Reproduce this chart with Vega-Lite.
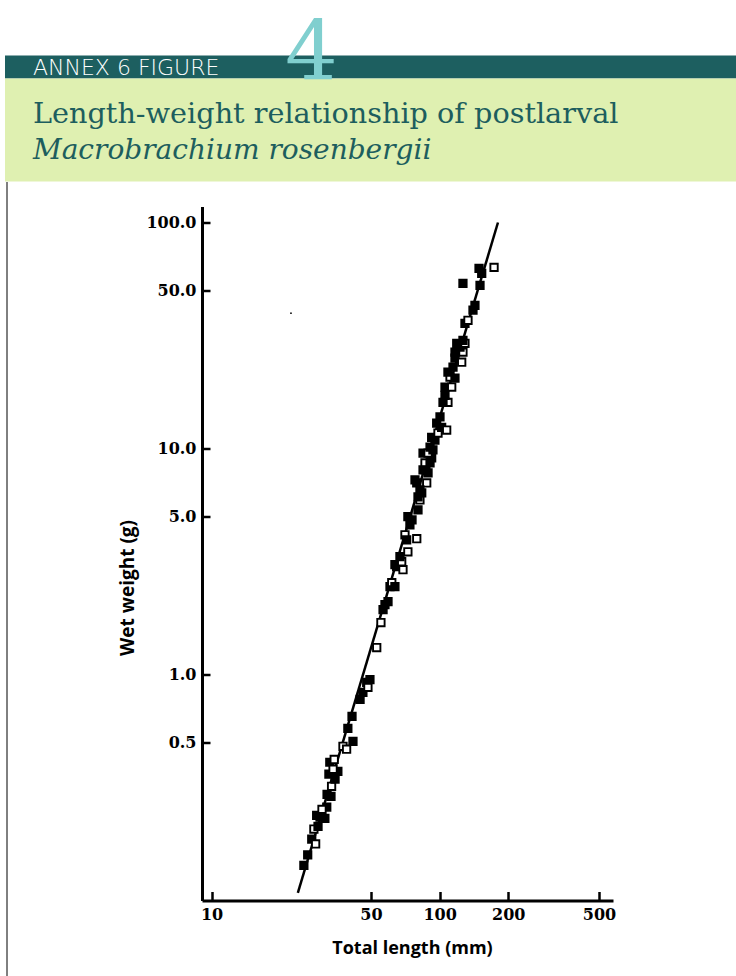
{
  "$schema": "https://vega.github.io/schema/vega-lite/v6.json",
  "background": "white",
  "padding": {"left": 5, "top": 13.5, "right": 0, "bottom": 0},
  "spacing": 0,
  "bounds": "flush",
  "config": {"axis": {"grid": false}},
  "datasets": {
    "pts": [
      {"L": 26.4, "W": 0.159, "kind": "filled"},
      {"L": 27.5, "W": 0.187, "kind": "filled"},
      {"L": 28.6, "W": 0.178, "kind": "open"},
      {"L": 28.1, "W": 0.207, "kind": "open"},
      {"L": 29.3, "W": 0.213, "kind": "filled"},
      {"L": 29.9, "W": 0.234, "kind": "open"},
      {"L": 31.4, "W": 0.231, "kind": "filled"},
      {"L": 28.9, "W": 0.238, "kind": "filled"},
      {"L": 32.0, "W": 0.259, "kind": "filled"},
      {"L": 33.4, "W": 0.289, "kind": "filled"},
      {"L": 33.6, "W": 0.320, "kind": "open"},
      {"L": 34.8, "W": 0.344, "kind": "filled"},
      {"L": 33.0, "W": 0.409, "kind": "filled"},
      {"L": 35.8, "W": 0.373, "kind": "filled"},
      {"L": 34.5, "W": 0.421, "kind": "open"},
      {"L": 37.7, "W": 0.481, "kind": "open"},
      {"L": 39.1, "W": 0.467, "kind": "open"},
      {"L": 39.6, "W": 0.578, "kind": "filled"},
      {"L": 41.7, "W": 0.506, "kind": "filled"},
      {"L": 32.1, "W": 0.295, "kind": "filled"},
      {"L": 32.7, "W": 0.362, "kind": "filled"},
      {"L": 30.5, "W": 0.253, "kind": "open"},
      {"L": 25.4, "W": 0.143, "kind": "filled"},
      {"L": 34.1, "W": 0.381, "kind": "open"},
      {"L": 41.3, "W": 0.653, "kind": "filled"},
      {"L": 44.8, "W": 0.776, "kind": "filled"},
      {"L": 46.1, "W": 0.833, "kind": "filled"},
      {"L": 47.9, "W": 0.922, "kind": "filled"},
      {"L": 49.5, "W": 0.950, "kind": "filled"},
      {"L": 48.5, "W": 0.877, "kind": "open"},
      {"L": 53.0, "W": 1.316, "kind": "open"},
      {"L": 55.3, "W": 1.697, "kind": "open"},
      {"L": 56.5, "W": 1.936, "kind": "filled"},
      {"L": 57.6, "W": 2.04, "kind": "filled"},
      {"L": 59.4, "W": 2.10, "kind": "filled"},
      {"L": 60.6, "W": 2.45, "kind": "filled"},
      {"L": 61.7, "W": 2.55, "kind": "open"},
      {"L": 63.7, "W": 2.45, "kind": "filled"},
      {"L": 64.8, "W": 3.00, "kind": "filled"},
      {"L": 63.7, "W": 3.06, "kind": "filled"},
      {"L": 69.1, "W": 2.91, "kind": "open"},
      {"L": 68.2, "W": 3.155, "kind": "open"},
      {"L": 67.0, "W": 3.32, "kind": "filled"},
      {"L": 72.6, "W": 3.49, "kind": "open"},
      {"L": 70.5, "W": 4.15, "kind": "open"},
      {"L": 79.4, "W": 3.99, "kind": "open"},
      {"L": 71.7, "W": 3.94, "kind": "filled"},
      {"L": 74.1, "W": 4.59, "kind": "filled"},
      {"L": 72.6, "W": 4.99, "kind": "filled"},
      {"L": 80.4, "W": 5.35, "kind": "filled"},
      {"L": 82.0, "W": 5.92, "kind": "open"},
      {"L": 83.5, "W": 6.36, "kind": "filled"},
      {"L": 78.0, "W": 7.26, "kind": "filled"},
      {"L": 79.4, "W": 7.04, "kind": "filled"},
      {"L": 87.8, "W": 7.04, "kind": "open"},
      {"L": 89.0, "W": 7.80, "kind": "filled"},
      {"L": 84.6, "W": 8.04, "kind": "filled"},
      {"L": 86.3, "W": 8.63, "kind": "open"},
      {"L": 90.8, "W": 8.63, "kind": "filled"},
      {"L": 92.3, "W": 9.08, "kind": "filled"},
      {"L": 84.6, "W": 9.55, "kind": "filled"},
      {"L": 89.0, "W": 9.55, "kind": "open"},
      {"L": 90.8, "W": 10.15, "kind": "filled"},
      {"L": 95.4, "W": 10.9, "kind": "filled"},
      {"L": 92.3, "W": 11.2, "kind": "filled"},
      {"L": 98.4, "W": 11.7, "kind": "open"},
      {"L": 102.1, "W": 12.4, "kind": "filled"},
      {"L": 97.1, "W": 12.96, "kind": "filled"},
      {"L": 107.4, "W": 12.07, "kind": "open"},
      {"L": 100.4, "W": 13.8, "kind": "filled"},
      {"L": 105.6, "W": 16.0, "kind": "open"},
      {"L": 108.8, "W": 16.0, "kind": "open"},
      {"L": 82.0, "W": 6.56, "kind": "filled"},
      {"L": 87.1, "W": 8.04, "kind": "filled"},
      {"L": 93.5, "W": 9.85, "kind": "filled"},
      {"L": 75.7, "W": 4.83, "kind": "filled"},
      {"L": 80.4, "W": 6.11, "kind": "filled"},
      {"L": 103.5, "W": 16.0, "kind": "filled"},
      {"L": 105.6, "W": 17.2, "kind": "filled"},
      {"L": 105.6, "W": 18.7, "kind": "filled"},
      {"L": 113.0, "W": 18.7, "kind": "open"},
      {"L": 111.1, "W": 20.7, "kind": "open"},
      {"L": 116.8, "W": 20.5, "kind": "filled"},
      {"L": 108.8, "W": 21.8, "kind": "filled"},
      {"L": 114.5, "W": 22.9, "kind": "filled"},
      {"L": 116.8, "W": 25.1, "kind": "filled"},
      {"L": 125.0, "W": 24.1, "kind": "open"},
      {"L": 116.8, "W": 26.7, "kind": "filled"},
      {"L": 126.6, "W": 26.7, "kind": "open"},
      {"L": 122.9, "W": 28.1, "kind": "filled"},
      {"L": 118.9, "W": 29.2, "kind": "filled"},
      {"L": 129.2, "W": 29.2, "kind": "open"},
      {"L": 126.6, "W": 30.1, "kind": "filled"},
      {"L": 129.2, "W": 35.8, "kind": "filled"},
      {"L": 133.2, "W": 36.9, "kind": "open"},
      {"L": 142.9, "W": 43.0, "kind": "filled"},
      {"L": 140.1, "W": 40.9, "kind": "filled"},
      {"L": 150.4, "W": 52.7, "kind": "filled"},
      {"L": 126.6, "W": 53.8, "kind": "filled"},
      {"L": 148.9, "W": 62.7, "kind": "filled"},
      {"L": 153.0, "W": 59.6, "kind": "filled"},
      {"L": 173.3, "W": 63.3, "kind": "open"}
    ],
    "fit": [
      {"L": 23.9, "W": 0.108},
      {"L": 180.3, "W": 100.0}
    ],
    "speck": [
      {"L": 22.3, "W": 39.7}
    ]
  },
  "vconcat": [
    {
      "width": 731,
      "height": 23,
      "view": {"fill": "#1d5f60", "stroke": null},
      "title": {
        "text": "ANNEX 6 FIGURE",
        "anchor": "start",
        "frame": "group",
        "orient": "top",
        "offset": 0,
        "dx": 28,
        "dy": 24.6,
        "font": "DejaVu Sans",
        "fontSize": 22,
        "fontWeight": 300,
        "color": "white"
      },
      "data": {"values": []},
      "mark": "text"
    },
    {
      "width": 731,
      "height": 103,
      "view": {"fill": "#dff0b1", "stroke": null},
      "title": {
        "text": "4",
        "anchor": "start",
        "frame": "group",
        "orient": "top",
        "offset": 0,
        "dx": 280,
        "dy": 18.9,
        "font": "DejaVu Serif",
        "fontSize": 83,
        "fontWeight": "normal",
        "color": "#80cfcf"
      },
      "data": {"values": []},
      "mark": "text"
    },
    {
      "width": 731,
      "height": 795,
      "view": {"stroke": null},
      "title": {
        "text": "Length-weight relationship of postlarval",
        "subtitle": "Macrobrachium rosenbergii",
        "anchor": "start",
        "frame": "group",
        "orient": "top",
        "offset": 17,
        "dx": 28,
        "font": "DejaVu Serif",
        "fontSize": 28.7,
        "fontWeight": "normal",
        "color": "#1d5e5e",
        "subtitleFont": "DejaVu Serif",
        "subtitleFontSize": 28,
        "subtitleFontStyle": "italic",
        "subtitleColor": "#1d5e5e",
        "subtitlePadding": 8
      },
      "layer": [
        {
          "layer": [
            {
              "data": {"name": "fit"},
              "mark": {"type": "line", "color": "black", "strokeWidth": 2.5},
              "encoding": {
                "x": {"field": "L", "type": "quantitative"},
                "y": {"field": "W", "type": "quantitative"}
              }
            },
            {
              "data": {"name": "pts"},
              "mark": {"type": "point", "shape": "square", "size": 54, "stroke": "black", "strokeWidth": 1.9, "opacity": 1, "fillOpacity": 1},
              "encoding": {
                "x": {"field": "L", "type": "quantitative"},
                "y": {"field": "W", "type": "quantitative"},
                "fill": {"field": "kind", "type": "nominal", "scale": {"domain": ["filled", "open"], "range": ["black", "white"]}, "legend": null}
              }
            },
            {
              "data": {"name": "speck"},
              "mark": {"type": "point", "shape": "circle", "size": 3, "filled": true, "color": "black", "opacity": 1},
              "encoding": {
                "x": {"field": "L", "type": "quantitative"},
                "y": {"field": "W", "type": "quantitative"}
              }
            }
          ],
          "encoding": {
            "x": {
              "field": "L",
              "type": "quantitative",
              "scale": {"type": "log", "domain": [9.08, 576], "range": [197, 608], "nice": false, "zero": false},
              "axis": {
                "orient": "bottom",
                "offset": -76,
                "values": [10, 50, 100, 200, 500],
                "format": "d",
                "domainColor": "black",
                "domainWidth": 3,
                "tickColor": "black",
                "tickWidth": 2.5,
                "tickSize": -9,
                "labelFont": "DejaVu Serif",
                "labelFontWeight": "bold",
                "labelFontSize": 16,
                "labelColor": "black",
                "labelPadding": 15,
                "labelOverlap": false,
                "labelFlush": false,
                "title": "Total length (mm)",
                "titleFont": "Open Sans",
                "titleFontWeight": "bold",
                "titleFontSize": 18,
                "titleColor": "black",
                "titleX": 407,
                "titleY": 48,
                "titleBaseline": "middle",
                "titleAlign": "center"
              }
            },
            "y": {
              "field": "W",
              "type": "quantitative",
              "scale": {"type": "log", "domain": [0.1, 117.7], "range": [719, 25], "nice": false, "zero": false},
              "axis": {
                "orient": "left",
                "offset": -197,
                "values": [0.5, 1, 5, 10, 50, 100],
                "format": ".1f",
                "domainColor": "black",
                "domainWidth": 3,
                "tickColor": "black",
                "tickWidth": 2.5,
                "tickSize": -8,
                "labelFont": "DejaVu Serif",
                "labelFontWeight": "bold",
                "labelFontSize": 16,
                "labelColor": "black",
                "labelPadding": 14,
                "labelOverlap": false,
                "labelFlush": false,
                "title": "Wet weight (g)",
                "titleFont": "Open Sans",
                "titleFontWeight": "bold",
                "titleFontSize": 19,
                "titleColor": "black",
                "titleX": -75,
                "titleY": 406,
                "titleAngle": 270,
                "titleBaseline": "middle",
                "titleAlign": "center"
              }
            }
          }
        },
        {
          "data": {"values": []},
          "mark": {"type": "rule", "color": "black"},
          "encoding": {
            "y": {
              "field": "edge",
              "type": "quantitative",
              "scale": {"domain": [0, 1], "range": [795, 0], "nice": false, "zero": false},
              "axis": {"orient": "left", "offset": -1.5, "ticks": false, "labels": false, "title": null, "grid": false, "domainColor": "black", "domainWidth": 1}
            }
          }
        }
      ],
      "resolve": {"scale": {"y": "independent"}, "axis": {"y": "independent"}}
    }
  ]
}
